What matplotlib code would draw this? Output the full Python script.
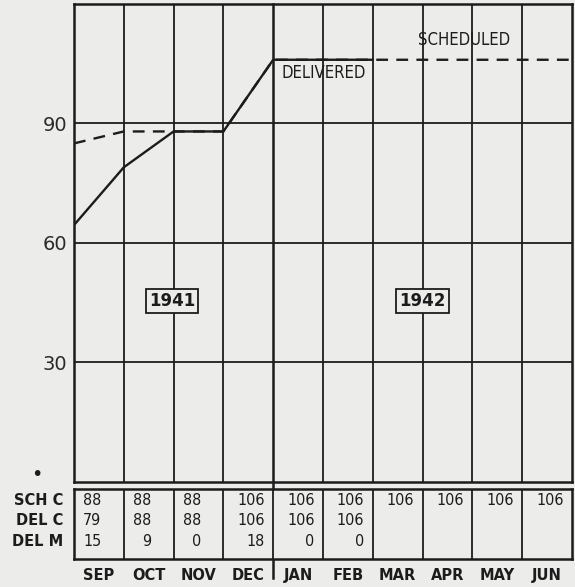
import numpy as np
import matplotlib.pyplot as plt
from matplotlib.transforms import blended_transform_factory

# month boundaries 0..10 (start of SEP ... end of JUN)
months = ['SEP', 'OCT', 'NOV', 'DEC', 'JAN', 'FEB', 'MAR', 'APR', 'MAY', 'JUN']
delivered = [64.5, 79, 88, 88, 106, 106, 106]
scheduled = [85, 88, 88, 88, 106, 106, 106, 106, 106, 106, 106]

row_names = ['SCH C', 'DEL C', 'DEL M']
sch_c = [88, 88, 88, 106, 106, 106, 106, 106, 106, 106]
del_c = [79, 88, 88, 106, 106, 106, None, None, None, None]
del_m = [15, 9, 0, 18, 0, 0, None, None, None, None]

yticks = [30, 60, 90]

ink = '#1c1c1c'
bg = '#ececea'

fig = plt.figure(figsize=(5.75, 5.87), dpi=100, facecolor=bg)
ax = fig.add_axes([0.1287, 0.1789, 0.866, 0.8143], facecolor=bg)
tax = fig.add_axes([0.1287, 0.0477, 0.866, 0.1193], facecolor=bg)

# --- main chart ---
ax.set_xlim(0, 10)
ax.set_ylim(0, 120)
for x in range(1, 10):
    if x == 4:
        continue
    ax.axvline(x, color=ink, lw=1.3, zorder=1)
ax.axvline(4, ymin=-0.2, ymax=1, color=ink, lw=1.8, zorder=1, clip_on=False)
for y in yticks:
    ax.axhline(y, color=ink, lw=1.3, zorder=1)

ax.plot(range(len(scheduled)), scheduled, color=ink, lw=1.7, ls=(0, (5, 3.5)), zorder=2)
ax.plot(range(len(delivered)), delivered, color=ink, lw=1.7, zorder=3)

ax.text(4.17, 102.8, 'DELIVERED', fontsize=12, color=ink, va='center',
        family='DejaVu Sans', fontstretch='condensed')
ax.text(6.9, 111, 'SCHEDULED', fontsize=12, color=ink, va='center',
        family='DejaVu Sans', fontstretch='condensed')

box = dict(boxstyle='square,pad=0.18', fc=bg, ec=ink, lw=1.3)
ax.text(1.97, 45.5, '1941', fontsize=12, fontweight='bold', color=ink, ha='center',
        va='center', bbox=box, zorder=4)
ax.text(7.0, 45.5, '1942', fontsize=12, fontweight='bold', color=ink, ha='center',
        va='center', bbox=box, zorder=4)

ax.set_yticks(yticks)
ax.set_yticklabels([str(v) for v in yticks], fontsize=14, color='#2a2a2a')
ax.tick_params(axis='y', length=0, pad=5)
ax.set_xticks([])
for s in ax.spines.values():
    s.set_color(ink)
    s.set_linewidth(1.8)

# --- table below ---
tax.set_xlim(0, 10)
tax.set_ylim(0, 1)
for x in range(1, 10):
    tax.axvline(x, color=ink, lw=1.3)
for s in tax.spines.values():
    s.set_color(ink)
    s.set_linewidth(1.8)
tax.set_xticks([])
tax.set_yticks([])

row_y = [0.833, 0.543, 0.257]
for vals, ry in zip([sch_c, del_c, del_m], row_y):
    for i, v in enumerate(vals):
        if v is None:
            continue
        off = 0.33 if sch_c[i] >= 100 and i >= 3 else 0.05
        tax.text(i + 0.5 + off, ry, str(v), fontsize=11.5, color=ink, ha='right', va='center',
                 family='DejaVu Sans', fontstretch='condensed')

for name, ry in zip(row_names, row_y):
    tax.text(-0.22, ry, name, fontsize=10.5, fontweight='bold', color=ink, ha='right',
             va='center', transform=blended_transform_factory(tax.transData, tax.transAxes))

for i, m in enumerate(months):
    tax.text(i + 0.5, -0.24, m, fontsize=10.5, fontweight='bold', color=ink, ha='center',
             va='center', transform=blended_transform_factory(tax.transData, tax.transAxes))

fig.text(37 / 575, 1 - 474 / 587, '•', fontsize=14, color=ink, ha='center', va='center')

fig.savefig('out.png', dpi=100, facecolor=bg)
